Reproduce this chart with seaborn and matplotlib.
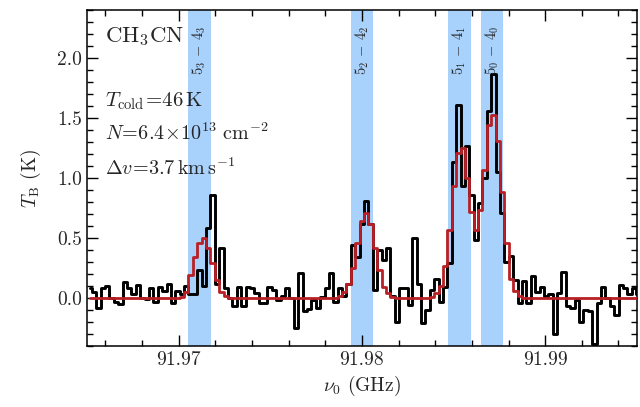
import numpy as np
import pandas as pd
import matplotlib
matplotlib.use("Agg")
import matplotlib.pyplot as plt
import matplotlib.transforms as mtransforms
from matplotlib.ticker import MultipleLocator, FormatStrFormatter
import seaborn as sns

# channel grid of the spectrum (GHz)
freq_start = 91.965147
chan_width = 0.00023946

# observed brightness temperature per channel (K)
tb_obs = [
    0.08, 0.05, -0.08, 0.08, 0.10, 0.00, -0.03, -0.05, 0.13, 0.08,
    0.03, 0.11, 0.00, -0.01, 0.08, -0.03, 0.09, 0.06, 0.12, -0.04,
    0.06, 0.03, 0.10, 0.03, 0.03, 0.23, 0.10, 0.58, 0.86, 0.12,
    0.42, 0.08, 0.00, -0.07, 0.09, -0.07, 0.09, 0.08, 0.04, -0.04,
    -0.04, 0.09, 0.07, -0.02, 0.02, 0.08, 0.00, -0.25, 0.21, -0.11,
    -0.09, -0.02, -0.08, 0.01, 0.08, 0.21, -0.03, 0.08, 0.02, 0.12,
    0.44, 0.34, 0.62, 0.81, 0.62, 0.07, 0.40, 0.32, 0.42, 0.02,
    -0.20, 0.08, 0.08, -0.06, 0.50, 0.12, -0.21, -0.10, 0.07, 0.16,
    -0.03, 0.09, 0.29, 1.13, 1.61, 0.93, 1.27, 0.86, 0.48, 0.79,
    1.00, 1.56, 1.87, 1.05, 0.71, 0.30, 0.35, 0.15, -0.04, 0.14,
    -0.04, 0.18, 0.05, 0.09, 0.02, 0.03, -0.30, 0.04, 0.22, -0.07,
    -0.08, -0.02, -0.20, -0.10, -0.11, -0.38, -0.04, 0.09, 0.00, -0.07,
    -0.14, 0.11, 0.08, 0.03, 0.08, 0.03,
]

# LTE model fit per channel (K)
tb_mod = [
    0.00, 0.00, 0.00, 0.00, 0.00, 0.00, 0.00, 0.00, 0.00, 0.00,
    0.00, 0.00, 0.00, 0.00, 0.00, 0.00, 0.00, 0.00, 0.00, 0.00,
    0.00, 0.01, 0.05, 0.19, 0.34, 0.46, 0.50, 0.42, 0.29, 0.15,
    0.05, 0.02, 0.00, 0.00, 0.00, 0.00, 0.00, 0.00, 0.00, 0.00,
    0.00, 0.00, 0.00, 0.00, 0.00, 0.00, 0.00, 0.00, 0.00, 0.00,
    0.00, 0.00, 0.00, 0.00, 0.00, 0.00, 0.00, 0.02, 0.05, 0.12,
    0.25, 0.46, 0.64, 0.71, 0.62, 0.42, 0.23, 0.09, 0.04, 0.01,
    0.00, 0.00, 0.00, 0.00, 0.00, 0.00, 0.00, 0.00, 0.01, 0.04,
    0.10, 0.27, 0.57, 0.93, 1.21, 1.25, 1.00, 0.72, 0.57, 0.73,
    1.07, 1.44, 1.53, 1.31, 0.88, 0.46, 0.16, 0.06, 0.02, 0.00,
    0.00, 0.00, 0.00, 0.00, 0.00, 0.00, 0.00, 0.00, 0.00, 0.00,
    0.00, 0.00, 0.00, 0.00, 0.00, 0.00, 0.00, 0.00, 0.00, 0.00,
    0.00, 0.00, 0.00, 0.00, 0.00, 0.00,
]

# transitions marked on the plot
line_labels = [r"$5_3$ $-$ $4_3$", r"$5_2$ $-$ $4_2$",
               r"$5_1$ $-$ $4_1$", r"$5_0$ $-$ $4_0$"]
line_freqs = [91.971130, 91.979994, 91.985314, 91.987087]
band_hw = 0.000614  # +-2 km/s

freq = freq_start + chan_width * np.arange(len(tb_obs))
df = pd.DataFrame({"freq": freq, "obs": tb_obs, "model": tb_mod})

sns.set_style("ticks")
plt.rcParams["font.family"] = "serif"
plt.rcParams["font.serif"] = ["cmr10", "DejaVu Serif"]
plt.rcParams["mathtext.fontset"] = "cm"
plt.rcParams["axes.formatter.use_mathtext"] = True
plt.rcParams["axes.unicode_minus"] = False

fig, ax = plt.subplots(figsize=(6.4, 4.07), dpi=100)
fig.subplots_adjust(left=0.136, right=0.995, bottom=0.150, top=0.975)

for f in line_freqs:
    ax.axvspan(f - band_hw, f + band_hw, color="#a8d1fb", lw=0, zorder=0)

sns.lineplot(data=df, x="freq", y="obs", drawstyle="steps-mid", color="black",
             lw=2.1, estimator=None, ax=ax, zorder=2)
sns.lineplot(data=df, x="freq", y="model", drawstyle="steps-mid", color="#b82025",
             lw=2.0, estimator=None, ax=ax, zorder=3)

ax.set_xlim(91.965, 91.995)
ax.set_ylim(-0.4, 2.4)
ax.xaxis.set_major_locator(MultipleLocator(0.01))
ax.xaxis.set_minor_locator(MultipleLocator(0.002))
ax.yaxis.set_major_locator(MultipleLocator(0.5))
ax.yaxis.set_minor_locator(MultipleLocator(0.1))
ax.xaxis.set_major_formatter(FormatStrFormatter("%.2f"))
ax.yaxis.set_major_formatter(FormatStrFormatter("%.1f"))
ax.tick_params(which="both", direction="in", top=True, right=True,
               labelsize=14, width=1.0, color="black")
ax.tick_params(which="major", length=8)
ax.tick_params(which="minor", length=4)
for sp in ax.spines.values():
    sp.set_linewidth(1.1)
    sp.set_color("black")

ax.set_xlabel(r"$\nu_0$ (GHz)", fontsize=14, labelpad=4)
ax.set_ylabel(r"$T_{\rm B}$ (K)", fontsize=14, labelpad=10)

trans = mtransforms.blended_transform_factory(ax.transData, ax.transAxes)
for lab, f in zip(line_labels, line_freqs):
    ax.text(f, 0.955, lab, transform=trans, rotation=90, ha="center", va="top",
            fontsize=10.5)

ax.text(0.033, 0.905, r"CH$_3$CN", transform=ax.transAxes, fontsize=16.5)
ax.text(0.033, 0.714, r"$T_{\rm cold}\!=\!46\,{\rm K}$", transform=ax.transAxes,
        fontsize=15)
ax.text(0.033, 0.613, r"$N\!=\!6.4\!\times\!10^{13}\ {\rm cm}^{-2}$",
        transform=ax.transAxes, fontsize=14.5)
ax.text(0.033, 0.509, r"$\Delta v\!=\!3.7\,{\rm km\,s}^{-1}$",
        transform=ax.transAxes, fontsize=14.5)

fig.savefig("out.png", dpi=100)
